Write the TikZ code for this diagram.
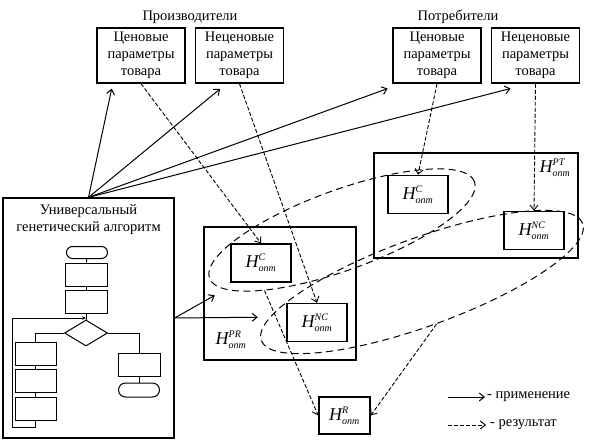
\documentclass[tikz,border=0pt]{standalone}
\usepackage{amsmath}
\usepackage{fontspec}
\setmainfont{Liberation Serif}
\usetikzlibrary{arrows.meta,positioning,shapes.geometric}
\newcommand{\hopt}[1]{\fontsize{18}{20}\selectfont$\textit{H}^{\mbox{\fontsize{10}{10}\selectfont\textit{#1}}}_{\mbox{\fontsize{10}{10}\selectfont\textit{опт}}}$}

\begin{document}
\begin{tikzpicture}[x=1pt,y=-1pt,font=\fontsize{14.5}{17}\selectfont,
  parbox/.style={draw,line width=1.5pt,minimum width=88pt,minimum height=55pt,align=center,inner sep=1pt},
  hbox/.style={draw,line width=1.5pt,minimum width=60pt,minimum height=38pt,inner sep=0pt},
  grpbox/.style={draw,line width=1.2pt,inner sep=0pt},
  fcbox/.style={draw,line width=1pt,minimum width=42pt,minimum height=23pt,inner sep=0pt},
  fcterm/.style={draw,line width=1pt,rounded corners=6pt,minimum width=41pt,minimum height=12pt,inner sep=0pt},
  fcline/.style={line width=1pt},
  cluster/.style={draw,ellipse,line width=1pt,dash pattern=on 7pt off 4.5pt,inner sep=0pt},
  apply/.style={-{Straight Barb[length=5pt,width=8pt]},line width=1pt},
  result/.style={-{Straight Barb[length=5pt,width=8pt]},line width=0.9pt,dash pattern=on 4pt off 2pt}]
\useasboundingbox (0,0) rectangle (592,444);
\node (prodlbl) at (190,17) {Производители};
\node (conslbl) at (458,17) {Потребители};
\node[parbox] (pp) at (141,55.5) {Ценовые\\параметры\\товара};
\node[parbox,right=9pt of pp] (pn) {Неценовые\\параметры\\товара};
\node[parbox] (cp) at (437,55.5) {Ценовые\\параметры\\товара};
\node[parbox,right=9pt of cp] (cn) {Неценовые\\параметры\\товара};

\node[grpbox,minimum width=171pt,minimum height=240pt] (ga) at (88.5,318) {};
\node[below=4pt of ga.north,align=center] (gatitle) {Универсальный\\генетический алгоритм};
\node[fcterm] (t1) at (87,252.5) {};
\node[fcbox] (b1) at (86,274.5) {};
\node[fcbox] (b2) at (86,302) {};
\node[diamond,draw,line width=1pt,minimum width=43pt,minimum height=26pt,inner sep=0pt] (dc) at (86,333) {};
\foreach \n/\y in {3/353.5,4/380.5,5/408.5} {\node[fcbox,minimum width=41pt] (b\n) at (35.5,\y) {};}
\node[fcbox] (b6) at (139,365) {};
\node[fcterm,minimum height=14pt,rounded corners=7pt] (t2) at (139,390) {};
\coordinate (jn) at (86,318);
\coordinate (lp) at (12,427);
\draw[fcline] (t1) -- (b1);
\draw[fcline] (b1) -- (b2);
\draw[fcline] (b2) -- (dc);
\draw[fcline] (dc.west) -| (b3.north);
\draw[fcline] (dc.east) -| (b6.north);
\draw[fcline] (b3) -- (b4);
\draw[fcline] (b4) -- (b5);
\draw[fcline] (b6) -- (t2);
\draw[fcline,-{Stealth[length=4pt,width=3.5pt]}] (b5.south) |- (lp) |- (jn);

\node[grpbox,minimum width=152pt,minimum height=133pt] (prgrp) at (280,293.5) {};
\node[grpbox,minimum width=204pt,minimum height=105pt] (ptgrp) at (476,205.5) {};
\node[hbox] (hcpr) at (261,263) {\hopt{C}};
\node[hbox] (hncpr) at (317,322.5) {\hopt{NC}};
\node (prlbl) at (231,340) {\hopt{PR}};
\node[hbox] (hcpt) at (418,194.5) {\hopt{C}};
\node[hbox] (hncpt) at (534,230.5) {\hopt{NC}};
\node (ptlbl) at (555,168) {\hopt{PT}};
\node[hbox,minimum width=51pt,minimum height=37pt] (hr) at (344.5,415.5) {\hopt{R}};

\node[cluster,minimum width=282pt,minimum height=80pt,rotate=20] (e1) at (342,230) {};
\node[cluster,minimum width=342pt,minimum height=88pt,rotate=20] (e2) at (422,282) {};

\foreach \t/\s in {pp.225/5,pn.245/8,cp.218/14,cn.257/19}
  \draw[apply,shorten >=\s pt] (ga.north) -- (\t);
\draw[apply,shorten >=12pt] (ga.east) -- (e1.187);
\draw[apply,shorten >=12pt] (ga.east) -- (e2.173);
\foreach \a/\b in {pp/hcpr,pn/hncpr,cp/hcpt,cn/hncpt}
  \draw[result] (\a.south) -- (\b.north);
\draw[result] (e1.198) -- (hr.west);
\draw[result] (e2.269) -- (hr.east);

\coordinate (lgapply) at (448,397);
\node[anchor=west,inner sep=0pt] (lapply) at (487,397) {- применение};
\draw[apply,shorten >=2pt] (lgapply) -- (lapply.west);
\coordinate (lgresult) at (448,425);
\node[anchor=west,inner sep=0pt] (lresult) at (490,425) {- результат};
\draw[result,shorten >=4pt] (lgresult) -- (lresult.west);
\end{tikzpicture}
\end{document}
